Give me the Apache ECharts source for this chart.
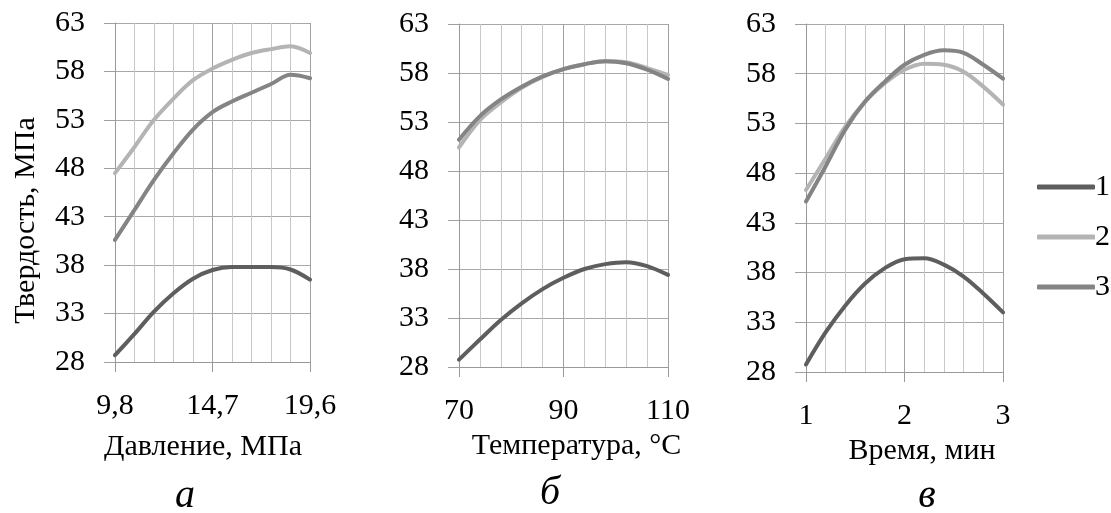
<!DOCTYPE html>
<html><head><meta charset="utf-8">
<script src="https://cdn.jsdelivr.net/npm/echarts@6/dist/echarts.min.js"></script>
<style>html,body{margin:0;padding:0;background:#fff}#c{width:1111px;height:513px}</style>
</head><body><div id="c"></div>
<script>
// ---- data ----
const yTicks = [28, 33, 38, 43, 48, 53, 58, 63];
const seriesNames = ['1', '2', '3'];

const pressure = [9.8, 10.78, 11.76, 12.74, 13.72, 14.7, 15.68, 16.66, 17.64, 18.62, 19.6];
const pressureTicks = [9.8, 14.7, 19.6];
const aS1 = [28.7, 30.9, 33.2, 35.1, 36.6, 37.5, 37.8, 37.8, 37.8, 37.55, 36.5];
const aS2 = [47.5, 50.2, 53.0, 55.2, 57.1, 58.3, 59.2, 59.9, 60.3, 60.6, 59.9];
const aS3 = [40.6, 43.7, 46.8, 49.55, 52.0, 53.8, 54.9, 55.8, 56.7, 57.65, 57.3];

const temperature = [70, 74, 78, 82, 86, 90, 94, 98, 102, 106, 110];
const temperatureTicks = [70, 90, 110];
const bS1 = [28.75, 30.8, 32.8, 34.5, 35.95, 37.1, 38.0, 38.5, 38.7, 38.3, 37.4];
const bS2 = [50.4, 53.2, 55.0, 56.5, 57.6, 58.4, 58.9, 59.2, 59.1, 58.5, 57.8];
const bS3 = [51.2, 53.6, 55.3, 56.6, 57.65, 58.4, 58.9, 59.2, 59.0, 58.35, 57.4];

const time = [1, 1.2, 1.4, 1.6, 1.8, 2, 2.2, 2.4, 2.6, 2.8, 3];
const timeTicks = [1, 2, 3];
const cS1 = [28.75, 32.0, 34.7, 36.9, 38.45, 39.35, 39.45, 38.8, 37.6, 35.9, 34.0];
const cS2 = [46.3, 49.5, 52.7, 55.2, 57.05, 58.4, 59.0, 58.9, 58.2, 56.7, 54.9];
const cS3 = [45.15, 48.7, 52.4, 55.2, 57.2, 58.9, 59.9, 60.35, 60.1, 58.9, 57.5];

const xNames = ['Давление, МПа', 'Температура, °С', 'Время, мин'];
const yName = 'Твердость, МПа';
const panelLetters = ['а', 'б', 'в'];

// ---- styles ----
const FONT = '"Liberation Serif", "Times New Roman", serif';
const colors = ['#5e5e5e', '#b4b4b4', '#848484'];
const grids = [
  {left: 115, top: 23, width: 195, height: 339},
  {left: 459, top: 24, width: 209, height: 343},
  {left: 806, top: 24, width: 197, height: 348}
];
const nameCfg = [
  {gap: 70, pad: [0, 19, 0, 0]},
  {gap: 61, pad: [0, 0, 0, 26]},
  {gap: 62, pad: [0, 0, 0, 35]}
];
const letterPos = [[185, 496], [550, 493], [927, 496]];

const xs = [pressure, temperature, time];
const xt = [pressureTicks, temperatureTicks, timeTicks];
const ys = [[aS1, aS2, aS3], [bS1, bS2, bS3], [cS1, cS2, cS3]];

const round = v => Math.round(v * 1e6) / 1e6;

const xAxis = xt.map((t, i) => ({
  type: 'value', gridIndex: i,
  min: t[0], max: t[t.length - 1], interval: round(t[1] - t[0]),
  name: xNames[i], nameLocation: 'middle', nameGap: nameCfg[i].gap,
  nameTextStyle: {fontFamily: FONT, fontSize: 30, color: '#000', padding: nameCfg[i].pad},
  axisLine: {show: true, lineStyle: {color: '#999', width: 1}},
  axisTick: {show: true, length: 10, lineStyle: {color: '#999'}},
  axisLabel: {margin: 29, fontFamily: FONT, fontSize: 30, color: '#000',
    formatter: v => String(round(v)).replace('.', ',')},
  splitLine: {show: true, lineStyle: {color: '#a0a0a0', width: 1}},
  minorTick: {show: false, splitNumber: 5},
  minorSplitLine: {show: true, lineStyle: {color: '#c8c8c8', width: 1}}
}));

const yAxis = [0, 1, 2].map(i => ({
  type: 'value', gridIndex: i,
  min: yTicks[0], max: yTicks[yTicks.length - 1], interval: yTicks[1] - yTicks[0],
  name: i === 0 ? yName : '', nameLocation: 'middle', nameGap: 74,
  nameTextStyle: {fontFamily: FONT, fontSize: 30, color: '#000', padding: [0, 56, 0, 0]},
  axisLine: {show: true, lineStyle: {color: '#999', width: 1}},
  axisTick: {show: true, length: 11, lineStyle: {color: '#a0a0a0'}},
  axisLabel: {margin: 30, fontFamily: FONT, fontSize: 30, color: '#000'},
  splitLine: {show: true, lineStyle: {color: '#a8a8a8', width: 1}}
}));

const series = [];
ys.forEach((set, gi) => {
  set.forEach((vals, si) => {
    series.push({
      type: 'line', name: seriesNames[si], xAxisIndex: gi, yAxisIndex: gi,
      smooth: 0.35, showSymbol: false, symbol: 'none',
      color: colors[si],
      lineStyle: {width: 4, color: colors[si], cap: 'round', join: 'round'},
      data: xs[gi].map((x, k) => [x, vals[k]]),
      z: 2 + si
    });
  });
});

const chart = echarts.init(document.getElementById('c'), null, {renderer: 'canvas'});
chart.setOption({
  animation: false,
  backgroundColor: '#fff',
  grid: grids.map(g => Object.assign({containLabel: false}, g)),
  xAxis, yAxis, series,
  legend: {
    data: seriesNames, orient: 'vertical', left: 1032, top: 167,
    icon: 'roundRect', itemWidth: 58, itemHeight: 5, itemGap: 20,
    textStyle: {fontFamily: FONT, fontSize: 30, color: '#000', padding: [0, 0, 0, -5]},
    selectedMode: false
  },
  graphic: panelLetters.map((t, i) => ({
    type: 'text', x: letterPos[i][0], y: letterPos[i][1],
    style: {text: t, font: 'italic 40px ' + FONT, fill: '#000', align: 'center', verticalAlign: 'middle'}
  }))
});
</script></body></html>
